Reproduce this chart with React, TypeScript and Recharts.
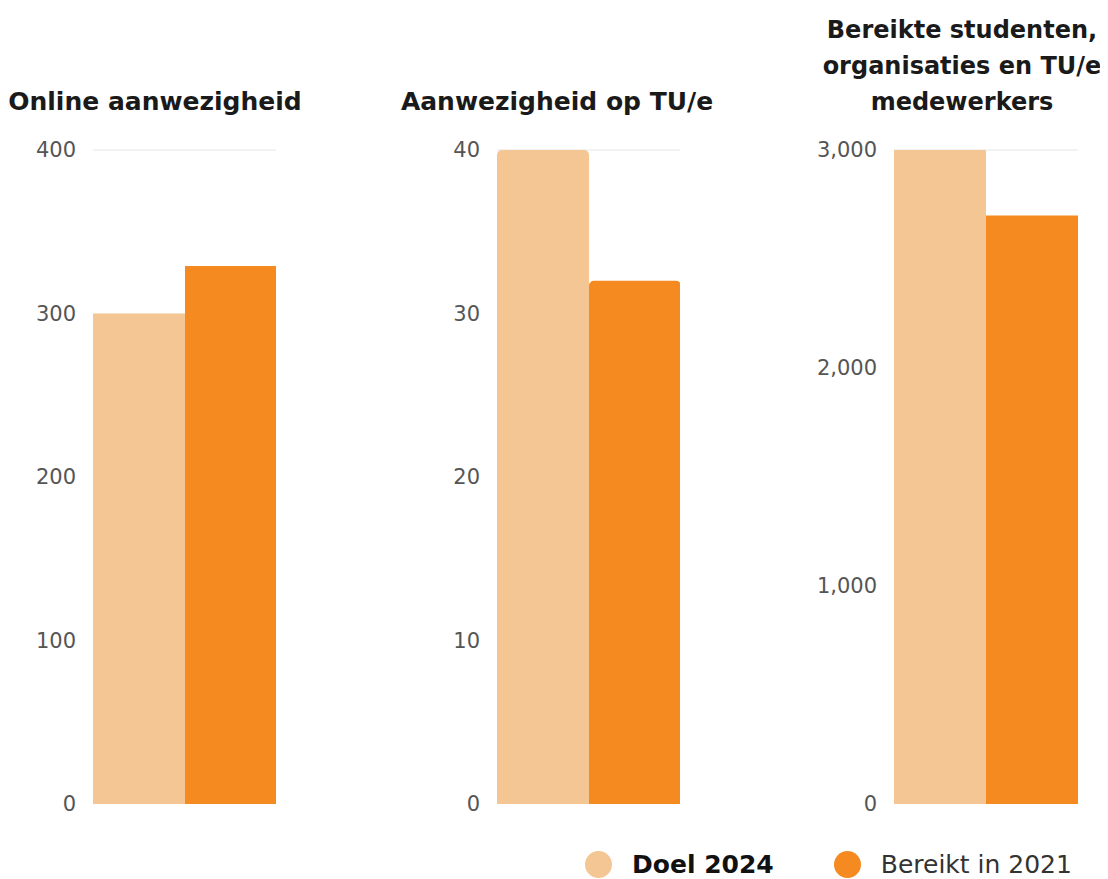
import { Bar, BarChart, CartesianGrid, XAxis, YAxis } from "recharts";

const seriesNames = ["Doel 2024", "Bereikt in 2021"];
const seriesColors = ["#F4C694", "#F58A20"];

const onlineTicks = [0, 100, 200, 300, 400];
const onlineValues = [300, 329];

const campusTicks = [0, 10, 20, 30, 40];
const campusValues = [40, 32];

const reachTicks = [0, 1000, 2000, 3000];
const reachValues = [3000, 2700];

const titles = [
  ["Online aanwezigheid"],
  ["Aanwezigheid op TU/e"],
  ["Bereikte studenten,", "organisaties en TU/e", "medewerkers"],
];

const fmt = (v: number) => v.toLocaleString("en-US");

type PanelProps = {
  left: number;
  values: number[];
  ticks: number[];
  rounded?: boolean;
  plotWidth: number;
};

const Y_AXIS_W = 80;

const Panel = ({ left, values, ticks, rounded, plotWidth }: PanelProps) => {
  const data = [{ name: "x", doel: values[0], bereikt: values[1] }];
  const max = ticks[ticks.length - 1];
  const radius: [number, number, number, number] = rounded ? [5, 5, 0, 0] : [0, 0, 0, 0];
  return (
    <div style={{ position: "absolute", left: left - Y_AXIS_W, top: 122 }}>
      <BarChart
        width={Y_AXIS_W + plotWidth}
        height={694}
        data={data}
        margin={{ top: 20, right: 0, bottom: 20, left: 0 }}
        barGap={0}
        barCategoryGap={0}
      >
        <CartesianGrid vertical={false} stroke="#e6e6e6" horizontalValues={[max]} />
        <XAxis dataKey="name" hide />
        <YAxis
          width={Y_AXIS_W}
          domain={[0, max]}
          ticks={ticks}
          interval={0}
          tickFormatter={fmt}
          axisLine={false}
          tickLine={false}
          tickMargin={11}
          tick={{ fill: "#555", fontSize: 21, fontFamily: "DejaVu Sans" }}
        />
        <Bar dataKey="doel" fill={seriesColors[0]} radius={radius} isAnimationActive={false} />
        <Bar dataKey="bereikt" fill={seriesColors[1]} radius={radius} isAnimationActive={false} />
      </BarChart>
    </div>
  );
};

const titleCenters = [147, 549, 954];
const titleSizes = [25, 25, 24];

export default function App() {
  return (
    <div style={{ position: "relative", width: 1100, height: 871, fontFamily: "DejaVu Sans", background: "#fff", overflow: "hidden" }}>
      {titles.map((lines, i) => (
        <div
          key={i}
          style={{
            position: "absolute",
            left: titleCenters[i] - 170,
            width: 340,
            bottom: 871 - 112,
            textAlign: "center",
            fontWeight: 700,
            fontSize: titleSizes[i],
            lineHeight: "36px",
            color: "#1a1a1a",
          }}
        >
          {lines.map((l) => (
            <div key={l}>{l}</div>
          ))}
        </div>
      ))}
      <Panel left={85} plotWidth={183} values={onlineValues} ticks={onlineTicks} />
      <Panel left={489} plotWidth={183} values={campusValues} ticks={campusTicks} rounded />
      <Panel left={886} plotWidth={184} values={reachValues} ticks={reachTicks} />
      <div style={{ position: "absolute", top: 842, left: 577, display: "flex", alignItems: "center", fontSize: 25 }}>
        {seriesNames.map((n, i) => (
          <div key={n} style={{ display: "flex", alignItems: "center", marginRight: i === 0 ? 60 : 0 }}>
            <span
              style={{
                width: 27,
                height: 27,
                borderRadius: 14,
                background: seriesColors[i],
                display: "inline-block",
                marginRight: 20,
              }}
            />
            <span style={{ fontWeight: i === 0 ? 700 : 400, color: i === 0 ? "#111" : "#333" }}>{n}</span>
          </div>
        ))}
      </div>
    </div>
  );
}
